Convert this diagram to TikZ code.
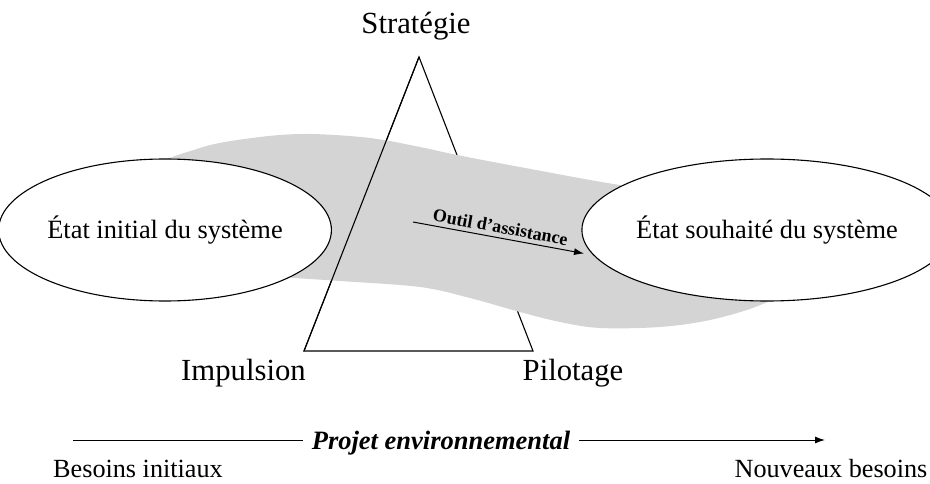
\documentclass[tikz,border=0pt]{standalone}
\usepackage{fontspec}
\setmainfont{Liberation Serif}
\usetikzlibrary{shapes.geometric,arrows.meta}
\begin{document}
\begin{tikzpicture}[x=1pt,y=-1pt,
  lbl/.style={font=\fontsize{30.7}{36}\selectfont, anchor=base, inner sep=0pt},
  botlbl/.style={font=\fontsize{26.2}{30}\selectfont, anchor=base, inner sep=0pt},
  state/.style={draw, line width=1.1pt, ellipse, fill=white, minimum width=310pt, minimum height=142pt, inner sep=0pt, font=\fontsize{26.4}{30}\selectfont},
  edge/.style={line width=1.1pt},
  bandfill/.style={fill=black!17},
  arr/.style={line width=1pt, -{Latex[length=10pt,width=7pt]}}]
\useasboundingbox (0,0) rectangle (930,484);

% triangle corners
\coordinate (apex) at (419,57);
\coordinate (bl) at (304,351);
\coordinate (br) at (533,351);
\draw[edge, line join=miter] (apex) -- (br) -- (bl) -- cycle;

% grey band
\path[bandfill] plot[smooth cycle, tension=0.55] coordinates {
  (150,175) (200,148) (260,137) (310,134) (370,138) (420,147) (457,155)
  (520,167) (620,185) (700,194) (775,205) (785,255) (778,292) (758,306)
  (710,320) (660,327) (600,328) (560,322) (520,312) (470,298) (420,287)
  (340,281) (280,277) (220,272) (160,255)};

% left edge of the triangle in front of the band
\draw[edge, line cap=round] (apex) -- (bl);

% states
\node[state] (init) at (165,230) {État initial du système};
\node[state] (goal) at (767,230) {État souhaité du système};

% triangle labels
\node[lbl] (strat) at (416,34) {Stratégie};
\node[lbl] (imp) at (243.5,380) {Impulsion};
\node[lbl] (pil) at (573,380) {Pilotage};

% tool arrow
\coordinate (o1) at (413,222);
\coordinate (o2) at (584,253.5);
\draw[arr] (o1) -- node[sloped, above, pos=0.5, inner sep=4pt, font=\fontsize{18}{22}\selectfont\bfseries] (outil) {Outil d’assistance} (o2);

% bottom arrow
\coordinate (b1) at (73,440);
\coordinate (b2) at (825,440);
\draw[arr] (b1) -- (b2);
\node[fill=white, anchor=base, inner xsep=9pt, inner ysep=2pt, font=\fontsize{26.5}{30}\selectfont\bfseries\itshape] (proj) at (441,449) {Projet environnemental};

\node[botlbl] (bes1) at (138,477) {Besoins initiaux};
\node[botlbl] (bes2) at (831,477) {Nouveaux besoins};
\end{tikzpicture}
\end{document}
